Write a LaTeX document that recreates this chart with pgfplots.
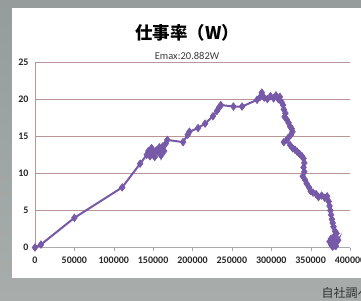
\documentclass[border=0pt]{standalone}
\usepackage{pgfplots}
\pgfplotsset{compat=1.18}
\usepackage{fontspec}
\setmainfont{Carlito}
\newfontfamily\cjk{Noto Sans CJK JP}
\definecolor{bgtop}{RGB}{150,156,156}
\definecolor{bgbot}{RGB}{168,173,172}
\definecolor{gridc}{RGB}{185,150,150}
\definecolor{purp}{RGB}{118,90,168}
\definecolor{tickc}{RGB}{40,40,40}
\pgfplotstableread{
x y
0 0
7600 0.4
50000 4.0
110700 8.1
133500 11.3
142000 12.5
144000 13.0
146000 12.3
148000 13.4
150000 12.8
152000 12.2
154000 13.1
156000 12.9
158000 13.5
160000 12.4
162000 13.6
164000 13.0
166000 14.0
168000 14.5
188000 14.2
194000 15.2
196000 15.6
207000 16.1
216000 16.7
226000 17.7
231000 18.4
234000 18.9
236000 19.2
252000 19.0
263000 19.0
282000 19.9
286000 20.3
288000 20.88
291000 20.2
295000 20.0
299000 20.4
303000 20.1
306000 20.5
309000 20.0
311000 20.3
313000 19.6
315000 19.2
316000 18.6
318000 18.1
317000 17.6
320000 17.2
322000 16.8
324000 16.3
326000 16.0
327000 15.6
325000 15.2
321000 14.7
316000 14.2
320000 14.5
324000 13.8
327000 13.4
330000 13.2
333000 12.9
336000 12.6
339000 12.3
341000 12.0
342000 11.4
341000 10.8
342000 10.2
340000 9.6
343000 9.1
345000 8.6
348000 8.1
350000 7.6
353000 7.4
357000 7.2
360000 6.8
364000 7.0
368000 6.7
371000 6.9
373000 6.2
374000 5.6
375000 5.0
376000 4.4
377000 3.8
378000 3.3
379000 2.8
381000 2.2
383000 1.9
380000 1.5
376000 1.2
374000 0.8
376000 0.4
378000 0.1
380000 0.3
383000 0.7
385000 1.0
382000 0.2
379000 0.6
}\powerdata
\begin{document}
\begin{tikzpicture}[x=1pt,y=1pt]
\path[use as bounding box] (0,0) rectangle (361,300);
\clip (0,0) rectangle (361,300);
\shade[top color=bgtop, bottom color=bgbot] (0,0) rectangle (361,300);
\fill[white] (12,22) rectangle (361,292);
\node[font=\cjk\bfseries\fontsize{17.5}{20}\selectfont, text=black] at (187,267) {仕事率（W）};
\node[font=\fontsize{10.5}{12}\selectfont, text={rgb,255:red,60;green,60;blue,60}] at (187,244) {Emax:20.882W};
\node[font=\cjk\fontsize{12}{14}\selectfont, text={rgb,255:red,50;green,50;blue,50}, anchor=base west] at (318,3) {自社調べ};
\begin{axis}[
  at={(35pt,52.5pt)}, anchor=south west,
  scale only axis, width=315pt, height=185.5pt,
  xmin=0, xmax=400000, ymin=0, ymax=25,
  xtick={0,50000,...,400000}, ytick={0,5,...,25},
  scaled x ticks=false,
  /pgf/number format/assume math mode=true,
  xticklabel style={/pgf/number format/fixed, /pgf/number format/1000 sep={}, yshift=-3pt},
  ticklabel style={font=\bfseries\fontsize{10}{12}\selectfont, text=tickc},
  axis x line*=bottom, axis y line*=left,
  x axis line style={draw={rgb,255:red,170;green,170;blue,170}, line width=0.8pt, -},
  y axis line style={draw=gridc, line width=0.8pt, -},
  ymajorgrids, major grid style={draw=gridc, line width=0.8pt},
  xtick style={draw={rgb,255:red,170;green,170;blue,170}},
  ytick style={draw=none},
  tick align=outside, major tick length=3pt,
  clip=false,
]
\addplot[color=purp, line width=2pt, mark=diamond*, mark size=3.8pt, mark options={fill=purp, draw=purp, line width=0.6pt}] table {\powerdata};
\end{axis}
\end{tikzpicture}
\end{document}
